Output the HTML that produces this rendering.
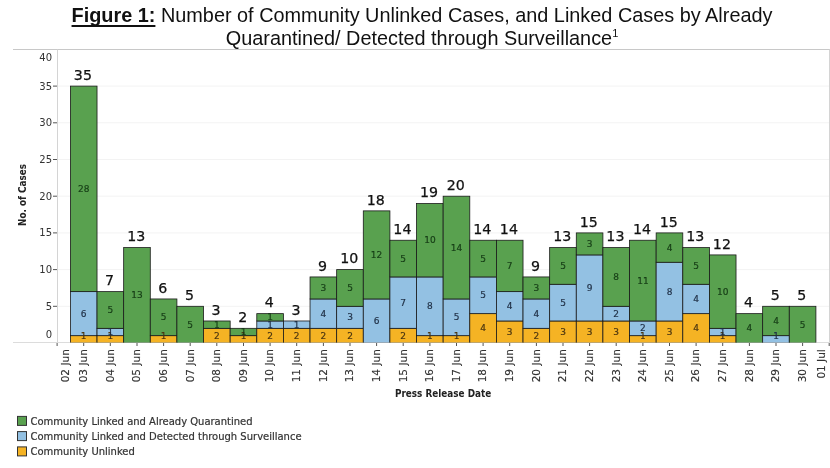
<!DOCTYPE html>
<html><head><meta charset="utf-8"><title>Figure 1</title>
<style>
html,body{margin:0;padding:0;background:#fff;}
body{width:830px;height:468px;position:relative;overflow:hidden;font-family:"Liberation Sans",sans-serif;}
.title{position:absolute;left:7px;top:4.2px;width:830px;text-align:center;font-size:19.88px;line-height:22.8px;color:#111;white-space:nowrap;}
.title b{text-decoration:underline;font-weight:bold;text-decoration-skip-ink:none;text-underline-offset:2.6px;text-decoration-thickness:1.8px;}
.title sup{font-size:11px;line-height:0;vertical-align:8px;}
</style></head><body>
<div class="title"><b>Figure 1:</b> Number of Community Unlinked Cases, and Linked Cases by Already<br>Quarantined/ Detected through Surveillance<sup>1</sup></div>
<svg width="830" height="468" viewBox="0 0 830 468" style="position:absolute;left:0;top:0">
<line x1="57.5" x2="829" y1="306.3" y2="306.3" stroke="#f3f3f3" stroke-width="1"/>
<line x1="57.5" x2="829" y1="269.6" y2="269.6" stroke="#f3f3f3" stroke-width="1"/>
<line x1="57.5" x2="829" y1="232.9" y2="232.9" stroke="#f3f3f3" stroke-width="1"/>
<line x1="57.5" x2="829" y1="196.2" y2="196.2" stroke="#f3f3f3" stroke-width="1"/>
<line x1="57.5" x2="829" y1="159.5" y2="159.5" stroke="#f3f3f3" stroke-width="1"/>
<line x1="57.5" x2="829" y1="122.8" y2="122.8" stroke="#f3f3f3" stroke-width="1"/>
<line x1="57.5" x2="829" y1="86.1" y2="86.1" stroke="#f3f3f3" stroke-width="1"/>
<line x1="13" x2="830" y1="49.5" y2="49.5" stroke="#c8c8c8" stroke-width="1"/>
<line x1="57.5" x2="57.5" y1="49.5" y2="342.5" stroke="#d4d4d4" stroke-width="1"/>
<line x1="829.5" x2="829.5" y1="49.5" y2="342.5" stroke="#d4d4d4" stroke-width="1"/>
<line x1="13" x2="830" y1="342.5" y2="342.5" stroke="#dcdcdc" stroke-width="1"/>
<text x="52" y="338.3" text-anchor="end" font-size="10" fill="#333" font-family='"DejaVu Sans", "Liberation Sans", sans-serif'>0</text>
<line x1="53" x2="57" y1="306.3" y2="306.3" stroke="#555" stroke-width="1"/>
<text x="52" y="309.8" text-anchor="end" font-size="10" fill="#333" font-family='"DejaVu Sans", "Liberation Sans", sans-serif'>5</text>
<line x1="53" x2="57" y1="269.6" y2="269.6" stroke="#555" stroke-width="1"/>
<text x="52" y="273.1" text-anchor="end" font-size="10" fill="#333" font-family='"DejaVu Sans", "Liberation Sans", sans-serif'>10</text>
<line x1="53" x2="57" y1="232.9" y2="232.9" stroke="#555" stroke-width="1"/>
<text x="52" y="236.4" text-anchor="end" font-size="10" fill="#333" font-family='"DejaVu Sans", "Liberation Sans", sans-serif'>15</text>
<line x1="53" x2="57" y1="196.2" y2="196.2" stroke="#555" stroke-width="1"/>
<text x="52" y="199.7" text-anchor="end" font-size="10" fill="#333" font-family='"DejaVu Sans", "Liberation Sans", sans-serif'>20</text>
<line x1="53" x2="57" y1="159.5" y2="159.5" stroke="#555" stroke-width="1"/>
<text x="52" y="163.0" text-anchor="end" font-size="10" fill="#333" font-family='"DejaVu Sans", "Liberation Sans", sans-serif'>25</text>
<line x1="53" x2="57" y1="122.8" y2="122.8" stroke="#555" stroke-width="1"/>
<text x="52" y="126.3" text-anchor="end" font-size="10" fill="#333" font-family='"DejaVu Sans", "Liberation Sans", sans-serif'>30</text>
<line x1="53" x2="57" y1="86.1" y2="86.1" stroke="#555" stroke-width="1"/>
<text x="52" y="89.6" text-anchor="end" font-size="10" fill="#333" font-family='"DejaVu Sans", "Liberation Sans", sans-serif'>35</text>
<text x="52" y="60.9" text-anchor="end" font-size="10" fill="#333" font-family='"DejaVu Sans", "Liberation Sans", sans-serif'>40</text>
<clipPath id="pc"><rect x="57" y="49" width="773" height="293.5"/></clipPath><g clip-path="url(#pc)">
<rect x="70.41" y="335.66" width="26.62" height="7.34" fill="#f5b324" stroke="#1a1a1a" stroke-width="0.8"/>
<rect x="70.41" y="291.62" width="26.62" height="44.04" fill="#93c1e3" stroke="#1a1a1a" stroke-width="0.8"/>
<rect x="70.41" y="86.10" width="26.62" height="205.52" fill="#59a14f" stroke="#1a1a1a" stroke-width="0.8"/>
<text x="83.7" y="338.6" text-anchor="middle" font-size="9" stroke="#4a3510" stroke-width="0.2" fill="#4a3510" font-family='"DejaVu Sans", "Liberation Sans", sans-serif'>1</text>
<text x="83.7" y="316.7" text-anchor="middle" font-size="9" stroke="#1f2f45" stroke-width="0.2" fill="#1f2f45" font-family='"DejaVu Sans", "Liberation Sans", sans-serif'>6</text>
<text x="83.7" y="192.0" text-anchor="middle" font-size="9" stroke="#163d16" stroke-width="0.2" fill="#163d16" font-family='"DejaVu Sans", "Liberation Sans", sans-serif'>28</text>
<text x="82.9" y="79.8" text-anchor="middle" font-size="14.2" stroke="#111" stroke-width="0.25" fill="#111" font-family='"DejaVu Sans", "Liberation Sans", sans-serif'>35</text>
<rect x="97.04" y="335.66" width="26.62" height="7.34" fill="#f5b324" stroke="#1a1a1a" stroke-width="0.8"/>
<rect x="97.04" y="328.32" width="26.62" height="7.34" fill="#93c1e3" stroke="#1a1a1a" stroke-width="0.8"/>
<rect x="97.04" y="291.62" width="26.62" height="36.70" fill="#59a14f" stroke="#1a1a1a" stroke-width="0.8"/>
<text x="110.3" y="338.6" text-anchor="middle" font-size="9" stroke="#4a3510" stroke-width="0.2" fill="#4a3510" font-family='"DejaVu Sans", "Liberation Sans", sans-serif'>1</text>
<text x="110.3" y="335.1" text-anchor="middle" font-size="9" stroke="#1f2f45" stroke-width="0.2" fill="#1f2f45" font-family='"DejaVu Sans", "Liberation Sans", sans-serif'>1</text>
<text x="110.3" y="313.1" text-anchor="middle" font-size="9" stroke="#163d16" stroke-width="0.2" fill="#163d16" font-family='"DejaVu Sans", "Liberation Sans", sans-serif'>5</text>
<text x="109.5" y="285.3" text-anchor="middle" font-size="14.2" stroke="#111" stroke-width="0.25" fill="#111" font-family='"DejaVu Sans", "Liberation Sans", sans-serif'>7</text>
<rect x="123.66" y="247.58" width="26.62" height="95.42" fill="#59a14f" stroke="#1a1a1a" stroke-width="0.8"/>
<text x="137.0" y="298.4" text-anchor="middle" font-size="9" stroke="#163d16" stroke-width="0.2" fill="#163d16" font-family='"DejaVu Sans", "Liberation Sans", sans-serif'>13</text>
<text x="136.2" y="241.3" text-anchor="middle" font-size="14.2" stroke="#111" stroke-width="0.25" fill="#111" font-family='"DejaVu Sans", "Liberation Sans", sans-serif'>13</text>
<rect x="150.29" y="335.66" width="26.62" height="7.34" fill="#f5b324" stroke="#1a1a1a" stroke-width="0.8"/>
<rect x="150.29" y="298.96" width="26.62" height="36.70" fill="#59a14f" stroke="#1a1a1a" stroke-width="0.8"/>
<text x="163.6" y="338.6" text-anchor="middle" font-size="9" stroke="#4a3510" stroke-width="0.2" fill="#4a3510" font-family='"DejaVu Sans", "Liberation Sans", sans-serif'>1</text>
<text x="163.6" y="320.4" text-anchor="middle" font-size="9" stroke="#163d16" stroke-width="0.2" fill="#163d16" font-family='"DejaVu Sans", "Liberation Sans", sans-serif'>5</text>
<text x="162.8" y="292.7" text-anchor="middle" font-size="14.2" stroke="#111" stroke-width="0.25" fill="#111" font-family='"DejaVu Sans", "Liberation Sans", sans-serif'>6</text>
<rect x="176.91" y="306.30" width="26.62" height="36.70" fill="#59a14f" stroke="#1a1a1a" stroke-width="0.8"/>
<text x="190.2" y="327.8" text-anchor="middle" font-size="9" stroke="#163d16" stroke-width="0.2" fill="#163d16" font-family='"DejaVu Sans", "Liberation Sans", sans-serif'>5</text>
<text x="189.4" y="300.0" text-anchor="middle" font-size="14.2" stroke="#111" stroke-width="0.25" fill="#111" font-family='"DejaVu Sans", "Liberation Sans", sans-serif'>5</text>
<rect x="203.54" y="328.32" width="26.62" height="14.68" fill="#f5b324" stroke="#1a1a1a" stroke-width="0.8"/>
<rect x="203.54" y="320.98" width="26.62" height="7.34" fill="#59a14f" stroke="#1a1a1a" stroke-width="0.8"/>
<text x="216.8" y="338.8" text-anchor="middle" font-size="9" stroke="#4a3510" stroke-width="0.2" fill="#4a3510" font-family='"DejaVu Sans", "Liberation Sans", sans-serif'>2</text>
<text x="216.8" y="327.8" text-anchor="middle" font-size="9" stroke="#163d16" stroke-width="0.2" fill="#163d16" font-family='"DejaVu Sans", "Liberation Sans", sans-serif'>1</text>
<text x="216.0" y="314.7" text-anchor="middle" font-size="14.2" stroke="#111" stroke-width="0.25" fill="#111" font-family='"DejaVu Sans", "Liberation Sans", sans-serif'>3</text>
<rect x="230.16" y="335.66" width="26.62" height="7.34" fill="#f5b324" stroke="#1a1a1a" stroke-width="0.8"/>
<rect x="230.16" y="328.32" width="26.62" height="7.34" fill="#59a14f" stroke="#1a1a1a" stroke-width="0.8"/>
<text x="243.5" y="338.6" text-anchor="middle" font-size="9" stroke="#4a3510" stroke-width="0.2" fill="#4a3510" font-family='"DejaVu Sans", "Liberation Sans", sans-serif'>1</text>
<text x="243.5" y="335.1" text-anchor="middle" font-size="9" stroke="#163d16" stroke-width="0.2" fill="#163d16" font-family='"DejaVu Sans", "Liberation Sans", sans-serif'>1</text>
<text x="242.7" y="322.0" text-anchor="middle" font-size="14.2" stroke="#111" stroke-width="0.25" fill="#111" font-family='"DejaVu Sans", "Liberation Sans", sans-serif'>2</text>
<rect x="256.79" y="328.32" width="26.62" height="14.68" fill="#f5b324" stroke="#1a1a1a" stroke-width="0.8"/>
<rect x="256.79" y="320.98" width="26.62" height="7.34" fill="#93c1e3" stroke="#1a1a1a" stroke-width="0.8"/>
<rect x="256.79" y="313.64" width="26.62" height="7.34" fill="#59a14f" stroke="#1a1a1a" stroke-width="0.8"/>
<text x="270.1" y="338.8" text-anchor="middle" font-size="9" stroke="#4a3510" stroke-width="0.2" fill="#4a3510" font-family='"DejaVu Sans", "Liberation Sans", sans-serif'>2</text>
<text x="270.1" y="327.8" text-anchor="middle" font-size="9" stroke="#1f2f45" stroke-width="0.2" fill="#1f2f45" font-family='"DejaVu Sans", "Liberation Sans", sans-serif'>1</text>
<text x="270.1" y="320.4" text-anchor="middle" font-size="9" stroke="#163d16" stroke-width="0.2" fill="#163d16" font-family='"DejaVu Sans", "Liberation Sans", sans-serif'>1</text>
<text x="269.3" y="307.3" text-anchor="middle" font-size="14.2" stroke="#111" stroke-width="0.25" fill="#111" font-family='"DejaVu Sans", "Liberation Sans", sans-serif'>4</text>
<rect x="283.41" y="328.32" width="26.62" height="14.68" fill="#f5b324" stroke="#1a1a1a" stroke-width="0.8"/>
<rect x="283.41" y="320.98" width="26.62" height="7.34" fill="#93c1e3" stroke="#1a1a1a" stroke-width="0.8"/>
<text x="296.7" y="338.8" text-anchor="middle" font-size="9" stroke="#4a3510" stroke-width="0.2" fill="#4a3510" font-family='"DejaVu Sans", "Liberation Sans", sans-serif'>2</text>
<text x="296.7" y="327.8" text-anchor="middle" font-size="9" stroke="#1f2f45" stroke-width="0.2" fill="#1f2f45" font-family='"DejaVu Sans", "Liberation Sans", sans-serif'>1</text>
<text x="295.9" y="314.7" text-anchor="middle" font-size="14.2" stroke="#111" stroke-width="0.25" fill="#111" font-family='"DejaVu Sans", "Liberation Sans", sans-serif'>3</text>
<rect x="310.04" y="328.32" width="26.62" height="14.68" fill="#f5b324" stroke="#1a1a1a" stroke-width="0.8"/>
<rect x="310.04" y="298.96" width="26.62" height="29.36" fill="#93c1e3" stroke="#1a1a1a" stroke-width="0.8"/>
<rect x="310.04" y="276.94" width="26.62" height="22.02" fill="#59a14f" stroke="#1a1a1a" stroke-width="0.8"/>
<text x="323.4" y="338.8" text-anchor="middle" font-size="9" stroke="#4a3510" stroke-width="0.2" fill="#4a3510" font-family='"DejaVu Sans", "Liberation Sans", sans-serif'>2</text>
<text x="323.4" y="316.7" text-anchor="middle" font-size="9" stroke="#1f2f45" stroke-width="0.2" fill="#1f2f45" font-family='"DejaVu Sans", "Liberation Sans", sans-serif'>4</text>
<text x="323.4" y="291.1" text-anchor="middle" font-size="9" stroke="#163d16" stroke-width="0.2" fill="#163d16" font-family='"DejaVu Sans", "Liberation Sans", sans-serif'>3</text>
<text x="322.6" y="270.6" text-anchor="middle" font-size="14.2" stroke="#111" stroke-width="0.25" fill="#111" font-family='"DejaVu Sans", "Liberation Sans", sans-serif'>9</text>
<rect x="336.66" y="328.32" width="26.62" height="14.68" fill="#f5b324" stroke="#1a1a1a" stroke-width="0.8"/>
<rect x="336.66" y="306.30" width="26.62" height="22.02" fill="#93c1e3" stroke="#1a1a1a" stroke-width="0.8"/>
<rect x="336.66" y="269.60" width="26.62" height="36.70" fill="#59a14f" stroke="#1a1a1a" stroke-width="0.8"/>
<text x="350.0" y="338.8" text-anchor="middle" font-size="9" stroke="#4a3510" stroke-width="0.2" fill="#4a3510" font-family='"DejaVu Sans", "Liberation Sans", sans-serif'>2</text>
<text x="350.0" y="320.4" text-anchor="middle" font-size="9" stroke="#1f2f45" stroke-width="0.2" fill="#1f2f45" font-family='"DejaVu Sans", "Liberation Sans", sans-serif'>3</text>
<text x="350.0" y="291.1" text-anchor="middle" font-size="9" stroke="#163d16" stroke-width="0.2" fill="#163d16" font-family='"DejaVu Sans", "Liberation Sans", sans-serif'>5</text>
<text x="349.2" y="263.3" text-anchor="middle" font-size="14.2" stroke="#111" stroke-width="0.25" fill="#111" font-family='"DejaVu Sans", "Liberation Sans", sans-serif'>10</text>
<rect x="363.29" y="298.96" width="26.62" height="44.04" fill="#93c1e3" stroke="#1a1a1a" stroke-width="0.8"/>
<rect x="363.29" y="210.88" width="26.62" height="88.08" fill="#59a14f" stroke="#1a1a1a" stroke-width="0.8"/>
<text x="376.6" y="324.1" text-anchor="middle" font-size="9" stroke="#1f2f45" stroke-width="0.2" fill="#1f2f45" font-family='"DejaVu Sans", "Liberation Sans", sans-serif'>6</text>
<text x="376.6" y="258.0" text-anchor="middle" font-size="9" stroke="#163d16" stroke-width="0.2" fill="#163d16" font-family='"DejaVu Sans", "Liberation Sans", sans-serif'>12</text>
<text x="375.8" y="204.6" text-anchor="middle" font-size="14.2" stroke="#111" stroke-width="0.25" fill="#111" font-family='"DejaVu Sans", "Liberation Sans", sans-serif'>18</text>
<rect x="389.91" y="328.32" width="26.62" height="14.68" fill="#f5b324" stroke="#1a1a1a" stroke-width="0.8"/>
<rect x="389.91" y="276.94" width="26.62" height="51.38" fill="#93c1e3" stroke="#1a1a1a" stroke-width="0.8"/>
<rect x="389.91" y="240.24" width="26.62" height="36.70" fill="#59a14f" stroke="#1a1a1a" stroke-width="0.8"/>
<text x="403.2" y="338.8" text-anchor="middle" font-size="9" stroke="#4a3510" stroke-width="0.2" fill="#4a3510" font-family='"DejaVu Sans", "Liberation Sans", sans-serif'>2</text>
<text x="403.2" y="305.7" text-anchor="middle" font-size="9" stroke="#1f2f45" stroke-width="0.2" fill="#1f2f45" font-family='"DejaVu Sans", "Liberation Sans", sans-serif'>7</text>
<text x="403.2" y="261.7" text-anchor="middle" font-size="9" stroke="#163d16" stroke-width="0.2" fill="#163d16" font-family='"DejaVu Sans", "Liberation Sans", sans-serif'>5</text>
<text x="402.4" y="233.9" text-anchor="middle" font-size="14.2" stroke="#111" stroke-width="0.25" fill="#111" font-family='"DejaVu Sans", "Liberation Sans", sans-serif'>14</text>
<rect x="416.54" y="335.66" width="26.62" height="7.34" fill="#f5b324" stroke="#1a1a1a" stroke-width="0.8"/>
<rect x="416.54" y="276.94" width="26.62" height="58.72" fill="#93c1e3" stroke="#1a1a1a" stroke-width="0.8"/>
<rect x="416.54" y="203.54" width="26.62" height="73.40" fill="#59a14f" stroke="#1a1a1a" stroke-width="0.8"/>
<text x="429.9" y="338.6" text-anchor="middle" font-size="9" stroke="#4a3510" stroke-width="0.2" fill="#4a3510" font-family='"DejaVu Sans", "Liberation Sans", sans-serif'>1</text>
<text x="429.9" y="309.4" text-anchor="middle" font-size="9" stroke="#1f2f45" stroke-width="0.2" fill="#1f2f45" font-family='"DejaVu Sans", "Liberation Sans", sans-serif'>8</text>
<text x="429.9" y="243.3" text-anchor="middle" font-size="9" stroke="#163d16" stroke-width="0.2" fill="#163d16" font-family='"DejaVu Sans", "Liberation Sans", sans-serif'>10</text>
<text x="429.1" y="197.2" text-anchor="middle" font-size="14.2" stroke="#111" stroke-width="0.25" fill="#111" font-family='"DejaVu Sans", "Liberation Sans", sans-serif'>19</text>
<rect x="443.16" y="335.66" width="26.62" height="7.34" fill="#f5b324" stroke="#1a1a1a" stroke-width="0.8"/>
<rect x="443.16" y="298.96" width="26.62" height="36.70" fill="#93c1e3" stroke="#1a1a1a" stroke-width="0.8"/>
<rect x="443.16" y="196.20" width="26.62" height="102.76" fill="#59a14f" stroke="#1a1a1a" stroke-width="0.8"/>
<text x="456.5" y="338.6" text-anchor="middle" font-size="9" stroke="#4a3510" stroke-width="0.2" fill="#4a3510" font-family='"DejaVu Sans", "Liberation Sans", sans-serif'>1</text>
<text x="456.5" y="320.4" text-anchor="middle" font-size="9" stroke="#1f2f45" stroke-width="0.2" fill="#1f2f45" font-family='"DejaVu Sans", "Liberation Sans", sans-serif'>5</text>
<text x="456.5" y="250.7" text-anchor="middle" font-size="9" stroke="#163d16" stroke-width="0.2" fill="#163d16" font-family='"DejaVu Sans", "Liberation Sans", sans-serif'>14</text>
<text x="455.7" y="189.9" text-anchor="middle" font-size="14.2" stroke="#111" stroke-width="0.25" fill="#111" font-family='"DejaVu Sans", "Liberation Sans", sans-serif'>20</text>
<rect x="469.79" y="313.64" width="26.62" height="29.36" fill="#f5b324" stroke="#1a1a1a" stroke-width="0.8"/>
<rect x="469.79" y="276.94" width="26.62" height="36.70" fill="#93c1e3" stroke="#1a1a1a" stroke-width="0.8"/>
<rect x="469.79" y="240.24" width="26.62" height="36.70" fill="#59a14f" stroke="#1a1a1a" stroke-width="0.8"/>
<text x="483.1" y="331.4" text-anchor="middle" font-size="9" stroke="#4a3510" stroke-width="0.2" fill="#4a3510" font-family='"DejaVu Sans", "Liberation Sans", sans-serif'>4</text>
<text x="483.1" y="298.4" text-anchor="middle" font-size="9" stroke="#1f2f45" stroke-width="0.2" fill="#1f2f45" font-family='"DejaVu Sans", "Liberation Sans", sans-serif'>5</text>
<text x="483.1" y="261.7" text-anchor="middle" font-size="9" stroke="#163d16" stroke-width="0.2" fill="#163d16" font-family='"DejaVu Sans", "Liberation Sans", sans-serif'>5</text>
<text x="482.3" y="233.9" text-anchor="middle" font-size="14.2" stroke="#111" stroke-width="0.25" fill="#111" font-family='"DejaVu Sans", "Liberation Sans", sans-serif'>14</text>
<rect x="496.41" y="320.98" width="26.62" height="22.02" fill="#f5b324" stroke="#1a1a1a" stroke-width="0.8"/>
<rect x="496.41" y="291.62" width="26.62" height="29.36" fill="#93c1e3" stroke="#1a1a1a" stroke-width="0.8"/>
<rect x="496.41" y="240.24" width="26.62" height="51.38" fill="#59a14f" stroke="#1a1a1a" stroke-width="0.8"/>
<text x="509.7" y="335.1" text-anchor="middle" font-size="9" stroke="#4a3510" stroke-width="0.2" fill="#4a3510" font-family='"DejaVu Sans", "Liberation Sans", sans-serif'>3</text>
<text x="509.7" y="309.4" text-anchor="middle" font-size="9" stroke="#1f2f45" stroke-width="0.2" fill="#1f2f45" font-family='"DejaVu Sans", "Liberation Sans", sans-serif'>4</text>
<text x="509.7" y="269.0" text-anchor="middle" font-size="9" stroke="#163d16" stroke-width="0.2" fill="#163d16" font-family='"DejaVu Sans", "Liberation Sans", sans-serif'>7</text>
<text x="508.9" y="233.9" text-anchor="middle" font-size="14.2" stroke="#111" stroke-width="0.25" fill="#111" font-family='"DejaVu Sans", "Liberation Sans", sans-serif'>14</text>
<rect x="523.04" y="328.32" width="26.62" height="14.68" fill="#f5b324" stroke="#1a1a1a" stroke-width="0.8"/>
<rect x="523.04" y="298.96" width="26.62" height="29.36" fill="#93c1e3" stroke="#1a1a1a" stroke-width="0.8"/>
<rect x="523.04" y="276.94" width="26.62" height="22.02" fill="#59a14f" stroke="#1a1a1a" stroke-width="0.8"/>
<text x="536.4" y="338.8" text-anchor="middle" font-size="9" stroke="#4a3510" stroke-width="0.2" fill="#4a3510" font-family='"DejaVu Sans", "Liberation Sans", sans-serif'>2</text>
<text x="536.4" y="316.7" text-anchor="middle" font-size="9" stroke="#1f2f45" stroke-width="0.2" fill="#1f2f45" font-family='"DejaVu Sans", "Liberation Sans", sans-serif'>4</text>
<text x="536.4" y="291.1" text-anchor="middle" font-size="9" stroke="#163d16" stroke-width="0.2" fill="#163d16" font-family='"DejaVu Sans", "Liberation Sans", sans-serif'>3</text>
<text x="535.6" y="270.6" text-anchor="middle" font-size="14.2" stroke="#111" stroke-width="0.25" fill="#111" font-family='"DejaVu Sans", "Liberation Sans", sans-serif'>9</text>
<rect x="549.66" y="320.98" width="26.62" height="22.02" fill="#f5b324" stroke="#1a1a1a" stroke-width="0.8"/>
<rect x="549.66" y="284.28" width="26.62" height="36.70" fill="#93c1e3" stroke="#1a1a1a" stroke-width="0.8"/>
<rect x="549.66" y="247.58" width="26.62" height="36.70" fill="#59a14f" stroke="#1a1a1a" stroke-width="0.8"/>
<text x="563.0" y="335.1" text-anchor="middle" font-size="9" stroke="#4a3510" stroke-width="0.2" fill="#4a3510" font-family='"DejaVu Sans", "Liberation Sans", sans-serif'>3</text>
<text x="563.0" y="305.7" text-anchor="middle" font-size="9" stroke="#1f2f45" stroke-width="0.2" fill="#1f2f45" font-family='"DejaVu Sans", "Liberation Sans", sans-serif'>5</text>
<text x="563.0" y="269.0" text-anchor="middle" font-size="9" stroke="#163d16" stroke-width="0.2" fill="#163d16" font-family='"DejaVu Sans", "Liberation Sans", sans-serif'>5</text>
<text x="562.2" y="241.3" text-anchor="middle" font-size="14.2" stroke="#111" stroke-width="0.25" fill="#111" font-family='"DejaVu Sans", "Liberation Sans", sans-serif'>13</text>
<rect x="576.29" y="320.98" width="26.62" height="22.02" fill="#f5b324" stroke="#1a1a1a" stroke-width="0.8"/>
<rect x="576.29" y="254.92" width="26.62" height="66.06" fill="#93c1e3" stroke="#1a1a1a" stroke-width="0.8"/>
<rect x="576.29" y="232.90" width="26.62" height="22.02" fill="#59a14f" stroke="#1a1a1a" stroke-width="0.8"/>
<text x="589.6" y="335.1" text-anchor="middle" font-size="9" stroke="#4a3510" stroke-width="0.2" fill="#4a3510" font-family='"DejaVu Sans", "Liberation Sans", sans-serif'>3</text>
<text x="589.6" y="291.1" text-anchor="middle" font-size="9" stroke="#1f2f45" stroke-width="0.2" fill="#1f2f45" font-family='"DejaVu Sans", "Liberation Sans", sans-serif'>9</text>
<text x="589.6" y="247.0" text-anchor="middle" font-size="9" stroke="#163d16" stroke-width="0.2" fill="#163d16" font-family='"DejaVu Sans", "Liberation Sans", sans-serif'>3</text>
<text x="588.8" y="226.6" text-anchor="middle" font-size="14.2" stroke="#111" stroke-width="0.25" fill="#111" font-family='"DejaVu Sans", "Liberation Sans", sans-serif'>15</text>
<rect x="602.91" y="320.98" width="26.62" height="22.02" fill="#f5b324" stroke="#1a1a1a" stroke-width="0.8"/>
<rect x="602.91" y="306.30" width="26.62" height="14.68" fill="#93c1e3" stroke="#1a1a1a" stroke-width="0.8"/>
<rect x="602.91" y="247.58" width="26.62" height="58.72" fill="#59a14f" stroke="#1a1a1a" stroke-width="0.8"/>
<text x="616.2" y="335.1" text-anchor="middle" font-size="9" stroke="#4a3510" stroke-width="0.2" fill="#4a3510" font-family='"DejaVu Sans", "Liberation Sans", sans-serif'>3</text>
<text x="616.2" y="316.7" text-anchor="middle" font-size="9" stroke="#1f2f45" stroke-width="0.2" fill="#1f2f45" font-family='"DejaVu Sans", "Liberation Sans", sans-serif'>2</text>
<text x="616.2" y="280.0" text-anchor="middle" font-size="9" stroke="#163d16" stroke-width="0.2" fill="#163d16" font-family='"DejaVu Sans", "Liberation Sans", sans-serif'>8</text>
<text x="615.4" y="241.3" text-anchor="middle" font-size="14.2" stroke="#111" stroke-width="0.25" fill="#111" font-family='"DejaVu Sans", "Liberation Sans", sans-serif'>13</text>
<rect x="629.54" y="335.66" width="26.62" height="7.34" fill="#f5b324" stroke="#1a1a1a" stroke-width="0.8"/>
<rect x="629.54" y="320.98" width="26.62" height="14.68" fill="#93c1e3" stroke="#1a1a1a" stroke-width="0.8"/>
<rect x="629.54" y="240.24" width="26.62" height="80.74" fill="#59a14f" stroke="#1a1a1a" stroke-width="0.8"/>
<text x="642.9" y="338.6" text-anchor="middle" font-size="9" stroke="#4a3510" stroke-width="0.2" fill="#4a3510" font-family='"DejaVu Sans", "Liberation Sans", sans-serif'>1</text>
<text x="642.9" y="331.4" text-anchor="middle" font-size="9" stroke="#1f2f45" stroke-width="0.2" fill="#1f2f45" font-family='"DejaVu Sans", "Liberation Sans", sans-serif'>2</text>
<text x="642.9" y="283.7" text-anchor="middle" font-size="9" stroke="#163d16" stroke-width="0.2" fill="#163d16" font-family='"DejaVu Sans", "Liberation Sans", sans-serif'>11</text>
<text x="642.1" y="233.9" text-anchor="middle" font-size="14.2" stroke="#111" stroke-width="0.25" fill="#111" font-family='"DejaVu Sans", "Liberation Sans", sans-serif'>14</text>
<rect x="656.16" y="320.98" width="26.62" height="22.02" fill="#f5b324" stroke="#1a1a1a" stroke-width="0.8"/>
<rect x="656.16" y="262.26" width="26.62" height="58.72" fill="#93c1e3" stroke="#1a1a1a" stroke-width="0.8"/>
<rect x="656.16" y="232.90" width="26.62" height="29.36" fill="#59a14f" stroke="#1a1a1a" stroke-width="0.8"/>
<text x="669.5" y="335.1" text-anchor="middle" font-size="9" stroke="#4a3510" stroke-width="0.2" fill="#4a3510" font-family='"DejaVu Sans", "Liberation Sans", sans-serif'>3</text>
<text x="669.5" y="294.7" text-anchor="middle" font-size="9" stroke="#1f2f45" stroke-width="0.2" fill="#1f2f45" font-family='"DejaVu Sans", "Liberation Sans", sans-serif'>8</text>
<text x="669.5" y="250.7" text-anchor="middle" font-size="9" stroke="#163d16" stroke-width="0.2" fill="#163d16" font-family='"DejaVu Sans", "Liberation Sans", sans-serif'>4</text>
<text x="668.7" y="226.6" text-anchor="middle" font-size="14.2" stroke="#111" stroke-width="0.25" fill="#111" font-family='"DejaVu Sans", "Liberation Sans", sans-serif'>15</text>
<rect x="682.79" y="313.64" width="26.62" height="29.36" fill="#f5b324" stroke="#1a1a1a" stroke-width="0.8"/>
<rect x="682.79" y="284.28" width="26.62" height="29.36" fill="#93c1e3" stroke="#1a1a1a" stroke-width="0.8"/>
<rect x="682.79" y="247.58" width="26.62" height="36.70" fill="#59a14f" stroke="#1a1a1a" stroke-width="0.8"/>
<text x="696.1" y="331.4" text-anchor="middle" font-size="9" stroke="#4a3510" stroke-width="0.2" fill="#4a3510" font-family='"DejaVu Sans", "Liberation Sans", sans-serif'>4</text>
<text x="696.1" y="302.1" text-anchor="middle" font-size="9" stroke="#1f2f45" stroke-width="0.2" fill="#1f2f45" font-family='"DejaVu Sans", "Liberation Sans", sans-serif'>4</text>
<text x="696.1" y="269.0" text-anchor="middle" font-size="9" stroke="#163d16" stroke-width="0.2" fill="#163d16" font-family='"DejaVu Sans", "Liberation Sans", sans-serif'>5</text>
<text x="695.3" y="241.3" text-anchor="middle" font-size="14.2" stroke="#111" stroke-width="0.25" fill="#111" font-family='"DejaVu Sans", "Liberation Sans", sans-serif'>13</text>
<rect x="709.41" y="335.66" width="26.62" height="7.34" fill="#f5b324" stroke="#1a1a1a" stroke-width="0.8"/>
<rect x="709.41" y="328.32" width="26.62" height="7.34" fill="#93c1e3" stroke="#1a1a1a" stroke-width="0.8"/>
<rect x="709.41" y="254.92" width="26.62" height="73.40" fill="#59a14f" stroke="#1a1a1a" stroke-width="0.8"/>
<text x="722.7" y="338.6" text-anchor="middle" font-size="9" stroke="#4a3510" stroke-width="0.2" fill="#4a3510" font-family='"DejaVu Sans", "Liberation Sans", sans-serif'>1</text>
<text x="722.7" y="335.1" text-anchor="middle" font-size="9" stroke="#1f2f45" stroke-width="0.2" fill="#1f2f45" font-family='"DejaVu Sans", "Liberation Sans", sans-serif'>1</text>
<text x="722.7" y="294.7" text-anchor="middle" font-size="9" stroke="#163d16" stroke-width="0.2" fill="#163d16" font-family='"DejaVu Sans", "Liberation Sans", sans-serif'>10</text>
<text x="721.9" y="248.6" text-anchor="middle" font-size="14.2" stroke="#111" stroke-width="0.25" fill="#111" font-family='"DejaVu Sans", "Liberation Sans", sans-serif'>12</text>
<rect x="736.04" y="313.64" width="26.62" height="29.36" fill="#59a14f" stroke="#1a1a1a" stroke-width="0.8"/>
<text x="749.4" y="331.4" text-anchor="middle" font-size="9" stroke="#163d16" stroke-width="0.2" fill="#163d16" font-family='"DejaVu Sans", "Liberation Sans", sans-serif'>4</text>
<text x="748.6" y="307.3" text-anchor="middle" font-size="14.2" stroke="#111" stroke-width="0.25" fill="#111" font-family='"DejaVu Sans", "Liberation Sans", sans-serif'>4</text>
<rect x="762.66" y="335.66" width="26.62" height="7.34" fill="#93c1e3" stroke="#1a1a1a" stroke-width="0.8"/>
<rect x="762.66" y="306.30" width="26.62" height="29.36" fill="#59a14f" stroke="#1a1a1a" stroke-width="0.8"/>
<text x="776.0" y="338.6" text-anchor="middle" font-size="9" stroke="#1f2f45" stroke-width="0.2" fill="#1f2f45" font-family='"DejaVu Sans", "Liberation Sans", sans-serif'>1</text>
<text x="776.0" y="324.1" text-anchor="middle" font-size="9" stroke="#163d16" stroke-width="0.2" fill="#163d16" font-family='"DejaVu Sans", "Liberation Sans", sans-serif'>4</text>
<text x="775.2" y="300.0" text-anchor="middle" font-size="14.2" stroke="#111" stroke-width="0.25" fill="#111" font-family='"DejaVu Sans", "Liberation Sans", sans-serif'>5</text>
<rect x="789.29" y="306.30" width="26.62" height="36.70" fill="#59a14f" stroke="#1a1a1a" stroke-width="0.8"/>
<text x="802.6" y="327.8" text-anchor="middle" font-size="9" stroke="#163d16" stroke-width="0.2" fill="#163d16" font-family='"DejaVu Sans", "Liberation Sans", sans-serif'>5</text>
<text x="801.8" y="300.0" text-anchor="middle" font-size="14.2" stroke="#111" stroke-width="0.25" fill="#111" font-family='"DejaVu Sans", "Liberation Sans", sans-serif'>5</text>
</g>
<line x1="57.1" x2="57.1" y1="343.0" y2="346.0" stroke="#555" stroke-width="1"/>
<text transform="translate(69.3,349.2) rotate(-90)" text-anchor="end" font-size="10.5" stroke="#333" stroke-width="0.15" fill="#333" font-family='"DejaVu Sans", "Liberation Sans", sans-serif'>02 Jun</text>
<line x1="83.7" x2="83.7" y1="343.0" y2="346.0" stroke="#555" stroke-width="1"/>
<text transform="translate(87.0,349.2) rotate(-90)" text-anchor="end" font-size="10.5" stroke="#333" stroke-width="0.15" fill="#333" font-family='"DejaVu Sans", "Liberation Sans", sans-serif'>03 Jun</text>
<line x1="110.3" x2="110.3" y1="343.0" y2="346.0" stroke="#555" stroke-width="1"/>
<text transform="translate(113.7,349.2) rotate(-90)" text-anchor="end" font-size="10.5" stroke="#333" stroke-width="0.15" fill="#333" font-family='"DejaVu Sans", "Liberation Sans", sans-serif'>04 Jun</text>
<line x1="137.0" x2="137.0" y1="343.0" y2="346.0" stroke="#555" stroke-width="1"/>
<text transform="translate(140.3,349.2) rotate(-90)" text-anchor="end" font-size="10.5" stroke="#333" stroke-width="0.15" fill="#333" font-family='"DejaVu Sans", "Liberation Sans", sans-serif'>05 Jun</text>
<line x1="163.6" x2="163.6" y1="343.0" y2="346.0" stroke="#555" stroke-width="1"/>
<text transform="translate(166.9,349.2) rotate(-90)" text-anchor="end" font-size="10.5" stroke="#333" stroke-width="0.15" fill="#333" font-family='"DejaVu Sans", "Liberation Sans", sans-serif'>06 Jun</text>
<line x1="190.2" x2="190.2" y1="343.0" y2="346.0" stroke="#555" stroke-width="1"/>
<text transform="translate(193.5,349.2) rotate(-90)" text-anchor="end" font-size="10.5" stroke="#333" stroke-width="0.15" fill="#333" font-family='"DejaVu Sans", "Liberation Sans", sans-serif'>07 Jun</text>
<line x1="216.8" x2="216.8" y1="343.0" y2="346.0" stroke="#555" stroke-width="1"/>
<text transform="translate(220.2,349.2) rotate(-90)" text-anchor="end" font-size="10.5" stroke="#333" stroke-width="0.15" fill="#333" font-family='"DejaVu Sans", "Liberation Sans", sans-serif'>08 Jun</text>
<line x1="243.5" x2="243.5" y1="343.0" y2="346.0" stroke="#555" stroke-width="1"/>
<text transform="translate(246.8,349.2) rotate(-90)" text-anchor="end" font-size="10.5" stroke="#333" stroke-width="0.15" fill="#333" font-family='"DejaVu Sans", "Liberation Sans", sans-serif'>09 Jun</text>
<line x1="270.1" x2="270.1" y1="343.0" y2="346.0" stroke="#555" stroke-width="1"/>
<text transform="translate(273.4,349.2) rotate(-90)" text-anchor="end" font-size="10.5" stroke="#333" stroke-width="0.15" fill="#333" font-family='"DejaVu Sans", "Liberation Sans", sans-serif'>10 Jun</text>
<line x1="296.7" x2="296.7" y1="343.0" y2="346.0" stroke="#555" stroke-width="1"/>
<text transform="translate(300.0,349.2) rotate(-90)" text-anchor="end" font-size="10.5" stroke="#333" stroke-width="0.15" fill="#333" font-family='"DejaVu Sans", "Liberation Sans", sans-serif'>11 Jun</text>
<line x1="323.4" x2="323.4" y1="343.0" y2="346.0" stroke="#555" stroke-width="1"/>
<text transform="translate(326.6,349.2) rotate(-90)" text-anchor="end" font-size="10.5" stroke="#333" stroke-width="0.15" fill="#333" font-family='"DejaVu Sans", "Liberation Sans", sans-serif'>12 Jun</text>
<line x1="350.0" x2="350.0" y1="343.0" y2="346.0" stroke="#555" stroke-width="1"/>
<text transform="translate(353.3,349.2) rotate(-90)" text-anchor="end" font-size="10.5" stroke="#333" stroke-width="0.15" fill="#333" font-family='"DejaVu Sans", "Liberation Sans", sans-serif'>13 Jun</text>
<line x1="376.6" x2="376.6" y1="343.0" y2="346.0" stroke="#555" stroke-width="1"/>
<text transform="translate(379.9,349.2) rotate(-90)" text-anchor="end" font-size="10.5" stroke="#333" stroke-width="0.15" fill="#333" font-family='"DejaVu Sans", "Liberation Sans", sans-serif'>14 Jun</text>
<line x1="403.2" x2="403.2" y1="343.0" y2="346.0" stroke="#555" stroke-width="1"/>
<text transform="translate(406.5,349.2) rotate(-90)" text-anchor="end" font-size="10.5" stroke="#333" stroke-width="0.15" fill="#333" font-family='"DejaVu Sans", "Liberation Sans", sans-serif'>15 Jun</text>
<line x1="429.9" x2="429.9" y1="343.0" y2="346.0" stroke="#555" stroke-width="1"/>
<text transform="translate(433.1,349.2) rotate(-90)" text-anchor="end" font-size="10.5" stroke="#333" stroke-width="0.15" fill="#333" font-family='"DejaVu Sans", "Liberation Sans", sans-serif'>16 Jun</text>
<line x1="456.5" x2="456.5" y1="343.0" y2="346.0" stroke="#555" stroke-width="1"/>
<text transform="translate(459.8,349.2) rotate(-90)" text-anchor="end" font-size="10.5" stroke="#333" stroke-width="0.15" fill="#333" font-family='"DejaVu Sans", "Liberation Sans", sans-serif'>17 Jun</text>
<line x1="483.1" x2="483.1" y1="343.0" y2="346.0" stroke="#555" stroke-width="1"/>
<text transform="translate(486.4,349.2) rotate(-90)" text-anchor="end" font-size="10.5" stroke="#333" stroke-width="0.15" fill="#333" font-family='"DejaVu Sans", "Liberation Sans", sans-serif'>18 Jun</text>
<line x1="509.7" x2="509.7" y1="343.0" y2="346.0" stroke="#555" stroke-width="1"/>
<text transform="translate(513.0,349.2) rotate(-90)" text-anchor="end" font-size="10.5" stroke="#333" stroke-width="0.15" fill="#333" font-family='"DejaVu Sans", "Liberation Sans", sans-serif'>19 Jun</text>
<line x1="536.4" x2="536.4" y1="343.0" y2="346.0" stroke="#555" stroke-width="1"/>
<text transform="translate(539.6,349.2) rotate(-90)" text-anchor="end" font-size="10.5" stroke="#333" stroke-width="0.15" fill="#333" font-family='"DejaVu Sans", "Liberation Sans", sans-serif'>20 Jun</text>
<line x1="563.0" x2="563.0" y1="343.0" y2="346.0" stroke="#555" stroke-width="1"/>
<text transform="translate(566.3,349.2) rotate(-90)" text-anchor="end" font-size="10.5" stroke="#333" stroke-width="0.15" fill="#333" font-family='"DejaVu Sans", "Liberation Sans", sans-serif'>21 Jun</text>
<line x1="589.6" x2="589.6" y1="343.0" y2="346.0" stroke="#555" stroke-width="1"/>
<text transform="translate(592.9,349.2) rotate(-90)" text-anchor="end" font-size="10.5" stroke="#333" stroke-width="0.15" fill="#333" font-family='"DejaVu Sans", "Liberation Sans", sans-serif'>22 Jun</text>
<line x1="616.2" x2="616.2" y1="343.0" y2="346.0" stroke="#555" stroke-width="1"/>
<text transform="translate(619.5,349.2) rotate(-90)" text-anchor="end" font-size="10.5" stroke="#333" stroke-width="0.15" fill="#333" font-family='"DejaVu Sans", "Liberation Sans", sans-serif'>23 Jun</text>
<line x1="642.9" x2="642.9" y1="343.0" y2="346.0" stroke="#555" stroke-width="1"/>
<text transform="translate(646.1,349.2) rotate(-90)" text-anchor="end" font-size="10.5" stroke="#333" stroke-width="0.15" fill="#333" font-family='"DejaVu Sans", "Liberation Sans", sans-serif'>24 Jun</text>
<line x1="669.5" x2="669.5" y1="343.0" y2="346.0" stroke="#555" stroke-width="1"/>
<text transform="translate(672.8,349.2) rotate(-90)" text-anchor="end" font-size="10.5" stroke="#333" stroke-width="0.15" fill="#333" font-family='"DejaVu Sans", "Liberation Sans", sans-serif'>25 Jun</text>
<line x1="696.1" x2="696.1" y1="343.0" y2="346.0" stroke="#555" stroke-width="1"/>
<text transform="translate(699.4,349.2) rotate(-90)" text-anchor="end" font-size="10.5" stroke="#333" stroke-width="0.15" fill="#333" font-family='"DejaVu Sans", "Liberation Sans", sans-serif'>26 Jun</text>
<line x1="722.7" x2="722.7" y1="343.0" y2="346.0" stroke="#555" stroke-width="1"/>
<text transform="translate(726.0,349.2) rotate(-90)" text-anchor="end" font-size="10.5" stroke="#333" stroke-width="0.15" fill="#333" font-family='"DejaVu Sans", "Liberation Sans", sans-serif'>27 Jun</text>
<line x1="749.4" x2="749.4" y1="343.0" y2="346.0" stroke="#555" stroke-width="1"/>
<text transform="translate(752.6,349.2) rotate(-90)" text-anchor="end" font-size="10.5" stroke="#333" stroke-width="0.15" fill="#333" font-family='"DejaVu Sans", "Liberation Sans", sans-serif'>28 Jun</text>
<line x1="776.0" x2="776.0" y1="343.0" y2="346.0" stroke="#555" stroke-width="1"/>
<text transform="translate(779.3,349.2) rotate(-90)" text-anchor="end" font-size="10.5" stroke="#333" stroke-width="0.15" fill="#333" font-family='"DejaVu Sans", "Liberation Sans", sans-serif'>29 Jun</text>
<line x1="802.6" x2="802.6" y1="343.0" y2="346.0" stroke="#555" stroke-width="1"/>
<text transform="translate(805.9,349.2) rotate(-90)" text-anchor="end" font-size="10.5" stroke="#333" stroke-width="0.15" fill="#333" font-family='"DejaVu Sans", "Liberation Sans", sans-serif'>30 Jun</text>
<line x1="829.2" x2="829.2" y1="343.0" y2="346.0" stroke="#555" stroke-width="1"/>
<text transform="translate(824.6,349.2) rotate(-90)" text-anchor="end" font-size="10.5" stroke="#333" stroke-width="0.15" fill="#333" font-family='"DejaVu Sans", "Liberation Sans", sans-serif'>01 Jul</text>
<text x="443.1" y="396.9" text-anchor="middle" font-size="9.86" font-weight="bold" fill="#222" font-family='"DejaVu Sans Condensed", "DejaVu Sans", sans-serif'>Press Release Date</text>
<text transform="translate(25.7,195) rotate(-90)" text-anchor="middle" font-size="9.86" font-weight="bold" fill="#222" font-family='"DejaVu Sans Condensed", "DejaVu Sans", sans-serif'>No. of Cases</text>
<rect x="17.5" y="416.4" width="9" height="9" fill="#59a14f" stroke="#333" stroke-width="1"/>
<text x="30.5" y="424.7" font-size="11.1" fill="#333" stroke="#333" stroke-width="0.2" font-family='"DejaVu Sans Condensed", "DejaVu Sans", sans-serif'>Community Linked and Already Quarantined</text>
<rect x="17.5" y="431.6" width="9" height="9" fill="#93c1e3" stroke="#333" stroke-width="1"/>
<text x="30.5" y="439.9" font-size="11.1" fill="#333" stroke="#333" stroke-width="0.2" font-family='"DejaVu Sans Condensed", "DejaVu Sans", sans-serif'>Community Linked and Detected through Surveillance</text>
<rect x="17.5" y="446.9" width="9" height="9" fill="#f5b324" stroke="#333" stroke-width="1"/>
<text x="30.5" y="455.2" font-size="11.1" fill="#333" stroke="#333" stroke-width="0.2" font-family='"DejaVu Sans Condensed", "DejaVu Sans", sans-serif'>Community Unlinked</text>
</svg>
</body></html>
